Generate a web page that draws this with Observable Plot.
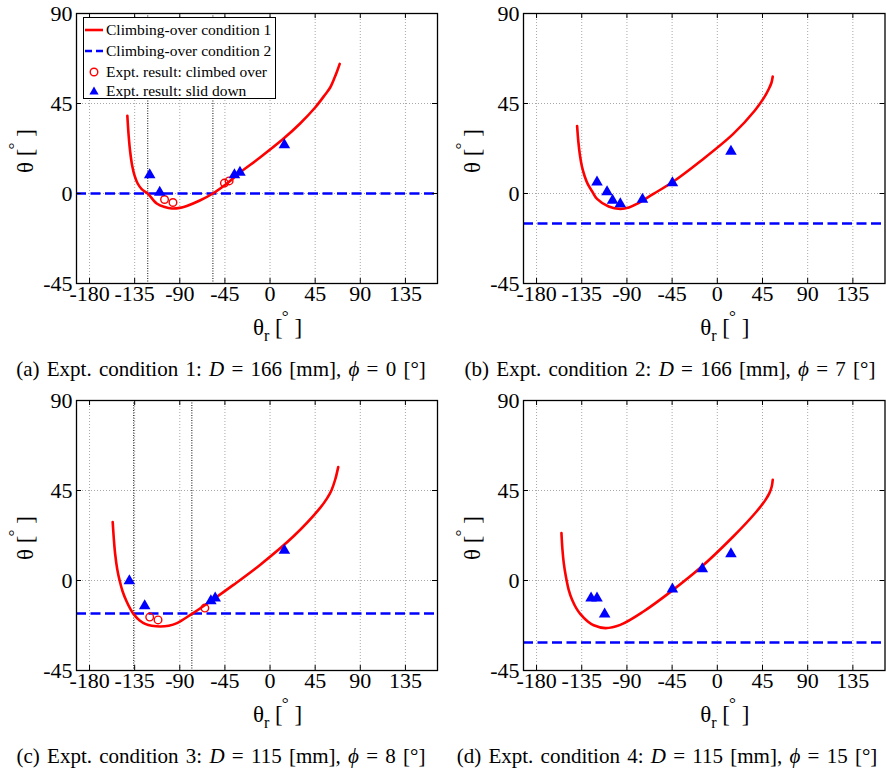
<!DOCTYPE html>
<html><head><meta charset="utf-8">
<script src="https://cdn.jsdelivr.net/npm/d3@7"></script>
<script src="https://cdn.jsdelivr.net/npm/@observablehq/plot@0.6"></script>
<style>
body{margin:0;background:#fff;font-family:"Liberation Serif",serif;color:#000;}
#fig{position:relative;width:886px;height:774px;overflow:hidden;background:#fff;}
.panel{position:absolute;}
.cap{position:absolute;font-size:21px;white-space:nowrap;word-spacing:2px;transform:translateX(-50%);}
.lab{position:absolute;font-size:23px;white-space:nowrap;line-height:1;}
.xl{transform:translate(-50%,-50%);}
.yl{transform:translate(-50%,-50%) rotate(-90deg);}
.deg{position:relative;top:-0.75em;font-size:0.75em;margin-left:-0.05em;}
.sub{font-size:0.7em;position:relative;top:0.35em;}
.legend{position:absolute;left:83px;top:17px;width:193px;height:82px;border:1px solid #000;background:#fff;font-size:15.5px;box-sizing:border-box;}
.legend .row{position:absolute;left:0;height:16px;display:flex;align-items:center;white-space:nowrap;}
.legend svg{width:20px;height:14px;margin-right:2px;}
</style>
</head><body>
<div id="fig"></div>
<script>
// ---------- data ----------
const xTicks = [-180, -135, -90, -45, 0, 45, 90, 135];
const yTicks = [-45, 0, 45, 90];
const xDomain = [-193, 167];
const yDomain = [-45, 90];

// Climbing-over condition 1 (theta_r, theta)
const curveA = [[-142.3,38.9],[-141,29],[-139.5,21],[-137.5,14],[-135,8.8],[-132,5],[-128,2.2],[-122,0],[-113,-5],[-105,-6.8],[-98,-7.5],[-90,-7.2],[-83,-6.2],[-70,-3.5],[-57,0],[-43,5],[-30,10.5],[-10,18],[13,27.2],[30,35],[45,43],[55,49.5],[60,53],[64,57.5],[66.8,61],[69.5,64.8]];
const curveB = [[-139.6,33.7],[-138.4,26],[-136.9,19.5],[-134.8,13.5],[-132,8.5],[-129.1,4.8],[-124,0.5],[-119.8,-2.7],[-108.2,-6.5],[-96.6,-7.7],[-88,-7],[-80,-5.2],[-63.6,-0.2],[-43.7,6],[-17.2,16],[15.9,29.8],[37.4,41.5],[47,48.3],[51.5,52.5],[54,55.5],[55.2,58.5]];
const curveC = [[-156.9,29.2],[-155.8,21],[-154.5,13.5],[-152.5,6],[-150,0],[-147,-5.5],[-143,-10.5],[-139.3,-14.2],[-136,-16.8],[-130,-20],[-124,-21.8],[-118,-22.6],[-109.5,-23],[-101,-22.6],[-92.8,-21.3],[-77.9,-16.7],[-59.7,-10.5],[-36.5,-2.2],[-10,7.8],[23.2,22],[49.8,36.2],[57,41.2],[61.4,45.3],[65,50.5],[68,56.7]];
const curveD = [[-155.2,23.7],[-154.3,16],[-152.9,8.7],[-150.8,2],[-148,-4.7],[-144.5,-9.8],[-140.5,-13.8],[-136.3,-16.8],[-129,-20.5],[-123.1,-22.4],[-111.5,-23.8],[-96.6,-22.2],[-73.5,-15.5],[-45.3,-5.2],[-17.2,6.2],[15.9,22],[39.1,34.5],[48,40.3],[52,43.8],[54.2,47],[55.2,50.3]];

// Climbing-over condition 2 (theta level)
const cond2 = [0, -15, -16.5, -31];

// Expt. result: climbed over
const climbedA = [[-105.2,-3],[-96.8,-4.5],[-45.5,5.2],[-40.8,6.3]];
const climbedB = [];
const climbedC = [[-120,-18.3],[-111.7,-19.7],[-65,-13.8]];
const climbedD = [];

// Expt. result: slid down
const slidA = [[-120,9.3],[-110,0.5],[-35.5,9.3],[-30,10.5],[14.3,24.3]];
const slidB = [[-119.8,5.7],[-109.8,0.8],[-104.3,-3.5],[-96.6,-5.2],[-74.5,-3],[-44.7,5.3],[13.6,21]];
const slidC = [[-140.3,-0.2],[-125,-12.7],[-59,-10.2],[-54.7,-8.8],[14.3,15]];
const slidD = [[-125.7,-8.8],[-119.8,-8.8],[-112.2,-16.8],[-44.7,-4.3],[-14.9,5.8],[13.6,13.3]];

// boundary markers (intersections of the two conditions)
const vlinesA = [-122, -57];
const vlinesB = [];
const vlinesC = [-136, -78];
const vlinesD = [];

const legendLabels = ["Climbing-over condition 1", "Climbing-over condition 2", "Expt. result: climbed over", "Expt. result: slid down"];
const captions = [
  '(a) Expt. condition 1: <i>D</i> = 166 [mm], <i>ϕ</i> = 0 [°]',
  '(b) Expt. condition 2: <i>D</i> = 166 [mm], <i>ϕ</i> = 7 [°]',
  '(c) Expt. condition 3: <i>D</i> = 115 [mm], <i>ϕ</i> = 8 [°]',
  '(d) Expt. condition 4: <i>D</i> = 115 [mm], <i>ϕ</i> = 15 [°]'
];

// ---------- drawing ----------
const fig = document.getElementById("fig");
const fmt = d => String(d);
const tickLenX = 2.5;  // in theta units (inward tick length)
const tickLenY = 5;    // in theta_r units

function panel(curve, level, climbed, slid, vlines, ml, mr) {
  return Plot.plot({
    width: 443, height: 345,
    marginLeft: ml, marginRight: mr, marginTop: 13, marginBottom: 62,
    x: {domain: xDomain},
    y: {domain: yDomain},
    style: {fontFamily: "Liberation Serif", fontSize: "22px", background: "transparent", color: "black", overflow: "visible"},
    marks: [
      Plot.gridX(xTicks, {stroke: "#a8a8a8", strokeOpacity: 1, strokeDasharray: "1,2", strokeWidth: 1}),
      Plot.gridY(yTicks, {stroke: "#a8a8a8", strokeOpacity: 1, strokeDasharray: "1,2", strokeWidth: 1}),
      Plot.ruleX(vlines, {stroke: "#333", strokeDasharray: "1,1.5", strokeWidth: 1.2}),
      Plot.ruleY([level], {stroke: "#0000ff", strokeWidth: 2.6, strokeDasharray: "10,4.5"}),
      Plot.line(curve, {x: d => d[0], y: d => d[1], stroke: "#ff0000", strokeWidth: 2.6, curve: "catmull-rom"}),
      Plot.dot(climbed, {x: d => d[0], y: d => d[1], r: 3.8, stroke: "#ff0000", strokeWidth: 1.4, fill: "none"}),
      Plot.dot(slid, {x: d => d[0], y: d => d[1], r: 4.3, symbol: "triangle", fill: "#0000ff", stroke: "none"}),
      // inward ticks on all four sides
      Plot.ruleX(xTicks, {x: d => d, y1: yDomain[0], y2: yDomain[0] + tickLenX, stroke: "black", strokeWidth: 1}),
      Plot.ruleX(xTicks, {x: d => d, y1: yDomain[1], y2: yDomain[1] - tickLenX, stroke: "black", strokeWidth: 1}),
      Plot.ruleY(yTicks, {y: d => d, x1: xDomain[0], x2: xDomain[0] + tickLenY, stroke: "black", strokeWidth: 1}),
      Plot.ruleY(yTicks, {y: d => d, x1: xDomain[1], x2: xDomain[1] - tickLenY, stroke: "black", strokeWidth: 1}),
      Plot.frame({stroke: "black", strokeWidth: 1.3}),
      Plot.axisX(xTicks, {anchor: "bottom", tickSize: 0, tickPadding: 2, tickFormat: fmt, label: null}),
      Plot.axisY(yTicks, {anchor: "left", tickSize: 0, tickPadding: 4, tickFormat: fmt, label: null})
    ]
  });
}

const specs = [
  {curve: curveA, level: cond2[0], climbed: climbedA, slid: slidA, v: vlinesA, left: 0, top: 0, ml: 76, mr: 6},
  {curve: curveB, level: cond2[1], climbed: climbedB, slid: slidB, v: vlinesB, left: 443, top: 0, ml: 80, mr: 1.5},
  {curve: curveC, level: cond2[2], climbed: climbedC, slid: slidC, v: vlinesC, left: 0, top: 387, ml: 76, mr: 6},
  {curve: curveD, level: cond2[3], climbed: climbedD, slid: slidD, v: vlinesD, left: 443, top: 387, ml: 80, mr: 1.5}
];
const capCenters = [221, 670, 221, 667];

specs.forEach((s, i) => {
  const el = panel(s.curve, s.level, s.climbed, s.slid, s.v, s.ml, s.mr);
  el.classList.add("panel");
  el.style.left = s.left + "px";
  el.style.top = s.top + "px";
  fig.appendChild(el);

  const fl = s.left + s.ml, fr = s.left + 443 - s.mr;
  const x0 = fl + (0 - xDomain[0]) / (xDomain[1] - xDomain[0]) * (fr - fl);
  const ft = s.top + 13, fb = s.top + 283;

  const xl = document.createElement("div");
  xl.className = "lab xl";
  xl.style.left = (x0 + 8) + "px";
  xl.style.top = (fb + 44) + "px";
  xl.innerHTML = 'θ<span class="sub">r</span> [<span class="deg">°</span> ]';
  fig.appendChild(xl);

  const yl = document.createElement("div");
  yl.className = "lab yl";
  yl.style.left = (fl - 51) + "px";
  yl.style.top = (ft + 138) + "px";
  yl.innerHTML = 'θ [<span class="deg">°</span> ]';
  fig.appendChild(yl);

  const cap = document.createElement("div");
  cap.className = "cap";
  cap.style.left = capCenters[i] + "px";
  cap.style.top = (s.top + 357) + "px";
  cap.innerHTML = captions[i];
  fig.appendChild(cap);
});

// legend (panel a)
const lg = document.createElement("div");
lg.className = "legend";
const sym = [
  '<svg viewBox="0 0 20 14"><line x1="1" y1="7" x2="19" y2="7" stroke="#ff0000" stroke-width="2.6"/></svg>',
  '<svg viewBox="0 0 20 14"><line x1="1" y1="7" x2="19" y2="7" stroke="#0000ff" stroke-width="2.6" stroke-dasharray="7,4"/></svg>',
  '<svg viewBox="0 0 20 14"><circle cx="10" cy="7" r="3.8" stroke="#ff0000" stroke-width="1.4" fill="none"/></svg>',
  '<svg viewBox="0 0 20 14"><path d="M10 2.5 L14.6 10.5 L5.4 10.5 Z" fill="#0000ff"/></svg>'
];
const rowTops = [4, 25, 46, 65];
legendLabels.forEach((t, i) => {
  const r = document.createElement("div");
  r.className = "row";
  r.style.top = rowTops[i] + "px";
  r.innerHTML = sym[i] + '<span>' + t + '</span>';
  lg.appendChild(r);
});
fig.appendChild(lg);
</script>
</body></html>
